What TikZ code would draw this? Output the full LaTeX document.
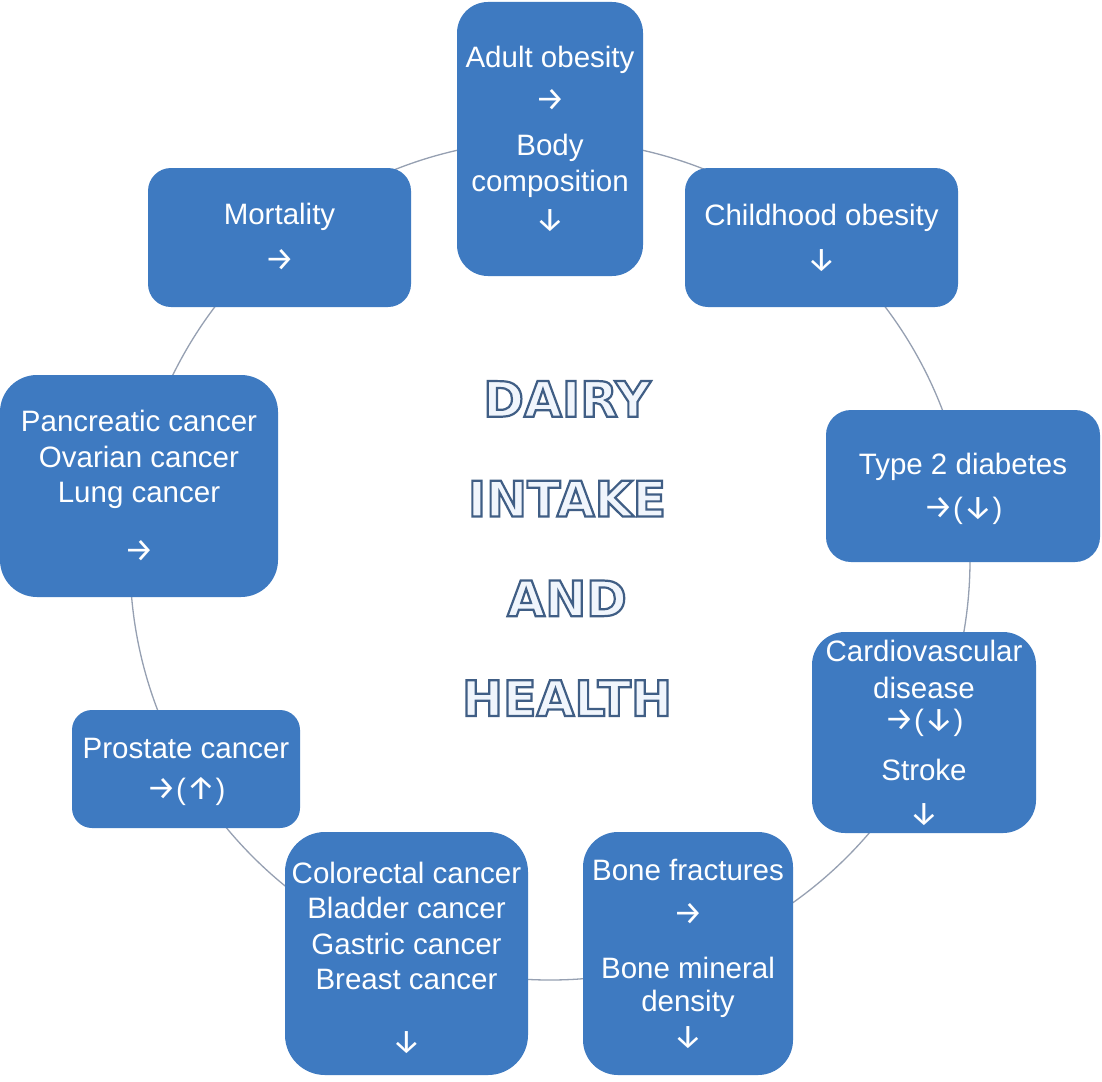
\documentclass[tikz,border=0pt]{standalone}
\usepackage{fontspec}
\setmainfont{Liberation Sans}
\newfontfamily\titlefont{DejaVu Sans}
\newfontfamily\arrowfont{Fira Sans}
\definecolor{boxblue}{RGB}{62,122,193}
\definecolor{ringgray}{RGB}{150,160,178}
\definecolor{titlefill}{RGB}{240,245,252}
\newcommand\tp{\rule{0pt}{27pt}}
\newcommand\bt{\rule[-7pt]{0pt}{7pt}}
\newcommand\RA{{\arrowfont\fontsize{33}{35}\selectfont →}}
\newcommand\DA{{\arrowfont\fontsize{33}{35}\selectfont ↓}}
\newcommand\UA{{\arrowfont\fontsize{33}{35}\selectfont ↑}}
\newcommand\outl[1]{\special{pdf:literal direct 2 Tr 2.2 w 0.25 0.37 0.52 RG}#1\special{pdf:literal direct 0 Tr}}
\tikzset{
  box/.style={fill=boxblue, text=white, align=center, inner sep=0pt,
    font=\fontsize{29.5}{35}\selectfont},
  ringline/.style={draw=ringgray, line width=1.3pt},
  titletext/.style={text=titlefill, align=center,
    font=\titlefont\bfseries\fontsize{49}{99.7}\selectfont}
}
\begin{document}
\begin{tikzpicture}[x=1pt,y=-1pt]
\useasboundingbox (0,0) rectangle (1102,1081);
\fill[white] (0,0) rectangle (1102,1081);

% the cycle ring that links the boxes (boxes are drawn over it)
\node[ringline, circle, inner sep=0pt, minimum size=840pt] (ring) at (550,560) {};

\node[box, minimum width=186pt, minimum height=274pt, rounded corners=31pt] (adult) at (550,139)
  {\tp Adult obesity\\[8pt]\RA\\[10pt]Body\\[1pt]composition\\[4pt]\DA\bt};
\node[box, minimum width=273pt, minimum height=139pt, rounded corners=23pt] (child) at (821.5,237.5)
  {\tp Childhood obesity\\[10pt]\DA\bt};
\node[box, minimum width=263pt, minimum height=139pt, rounded corners=23pt] (mort) at (279.5,237.5)
  {\tp Mortality\\[11pt]\RA\bt};
\node[box, minimum width=278pt, minimum height=222pt, rounded corners=37pt] (panc) at (139,486)
  {\tp Pancreatic cancer\\[1pt]Ovarian cancer\\[0pt]Lung cancer\\[24pt]\RA\bt};
\node[box, minimum width=274pt, minimum height=152pt, rounded corners=25pt] (t2d) at (963,486)
  {\tp Type 2 diabetes\\[9pt]\RA(\DA)\bt};
\node[box, minimum width=224pt, minimum height=201pt, rounded corners=33pt] (cardio) at (924,732.5)
  {\tp Cardiovascular\\[2pt]disease\\[-3pt]\RA(\DA)\\[15pt]Stroke\\[9pt]\DA\bt};
\node[box, minimum width=228pt, minimum height=118pt, rounded corners=20pt] (prost) at (186,769)
  {\tp Prostate cancer\\[6pt]\RA(\UA)\bt};
\node[box, minimum width=243pt, minimum height=243pt, rounded corners=40pt] (colo) at (406.5,953.5)
  {\rule{0pt}{35pt}Colorectal cancer\\[0pt]Bladder cancer\\[1pt]Gastric cancer\\[0pt]Breast cancer\\[28pt]\DA\bt};
\node[box, minimum width=210pt, minimum height=243pt, rounded corners=35pt] (bone) at (688,953.5)
  {\tp Bone fractures\\[9pt]\RA\\[19pt]Bone mineral\\[-2pt]density\\[1pt]\DA\bt};

\node[titletext] (title) at (567,548.5)
  {\outl{DAIRY}\\\outl{INTAKE}\\\outl{AND}\\\outl{HEALTH}};
\end{tikzpicture}
\end{document}
